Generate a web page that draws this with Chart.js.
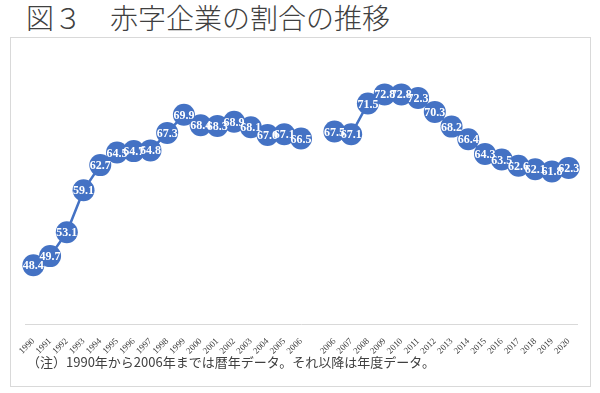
<!DOCTYPE html>
<html lang="ja">
<head>
  <meta charset="UTF-8">
  <title>図３ 赤字企業の割合の推移</title>
  <script src="https://cdn.jsdelivr.net/npm/chart.js"></script>
  <style>
    body { margin: 0; width: 600px; height: 393px; background: #fff; position: relative; overflow: hidden;
           font-family: "Noto Sans CJK JP", sans-serif; }
    #title { position: absolute; left: 26px; top: 3px; font-size: 28px; line-height: 28px; font-weight: 300;
             color: #404040; white-space: nowrap; }
    #frame { position: absolute; left: 10px; top: 37px; width: 581px; height: 350px;
             border: 1px solid #d9d9d9; box-sizing: border-box; }
    #note { position: absolute; left: 27px; top: 354px; font-size: 13px; line-height: 16px;
            color: #404040; white-space: nowrap; }
    #wrap { position: absolute; left: 0; top: 0; width: 600px; height: 393px; }
  </style>
</head>
<body>
  <div id="title">図３　赤字企業の割合の推移</div>
  <div id="frame"></div>
  <div id="wrap"><canvas id="chart" width="600" height="393"></canvas></div>
  <div id="note">（注）1990年から2006年までは暦年データ。それ以降は年度データ。</div>

  <script>
    // calendar years 1990-2006, a blank slot, then fiscal years 2006-2020
    const years = ['1990', '1991', '1992', '1993', '1994', '1995', '1996', '1997', '1998', '1999',
                   '2000', '2001', '2002', '2003', '2004', '2005', '2006', '',
                   '2006', '2007', '2008', '2009', '2010', '2011', '2012', '2013', '2014',
                   '2015', '2016', '2017', '2018', '2019', '2020'];

    const calendarYearShare = [48.4, 49.7, 53.1, 59.1, 62.7, 64.5, 64.7, 64.8, 67.3, 69.9,
                               68.4, 68.3, 68.9, 68.1, 67.0, 67.1, 66.5];
    const fiscalYearShare = [67.5, 67.1, 71.5, 72.8, 72.8, 72.3, 70.3, 68.2, 66.4,
                             64.3, 63.5, 62.6, 62.1, 61.8, 62.3];

    const deficitShare = [...calendarYearShare, null, ...fiscalYearShare];

    const yMin = 40;
    const yMax = 80;

    const blue = '#4472C4';

    // white value labels on top of the markers
    const valueLabels = {
      id: 'valueLabels',
      afterDatasetsDraw(chart) {
        const ctx = chart.ctx;
        const meta = chart.getDatasetMeta(0);
        const data = chart.data.datasets[0].data;
        ctx.save();
        ctx.font = 'bold 12px "Liberation Serif", "Times New Roman", serif';
        ctx.fillStyle = '#ffffff';
        ctx.textAlign = 'center';
        ctx.textBaseline = 'middle';
        meta.data.forEach((pt, i) => {
          if (data[i] === null) return;
          ctx.fillText(data[i].toFixed(1), pt.x, pt.y + 1);
        });
        ctx.restore();
      }
    };

    new Chart(document.getElementById('chart'), {
      type: 'line',
      data: {
        labels: years,
        datasets: [{
          data: deficitShare,
          borderColor: blue,
          borderWidth: 2.5,
          backgroundColor: blue,
          pointBackgroundColor: blue,
          pointBorderColor: blue,
          pointBorderWidth: 0,
          pointRadius: 11,
          pointHoverRadius: 11,
          spanGaps: false,
          tension: 0
        }]
      },
      options: {
        responsive: false,
        animation: false,
        layout: { padding: { left: 25, right: 23, top: 44, bottom: 29 } },
        plugins: { legend: { display: false }, tooltip: { enabled: false } },
        scales: {
          x: {
            offset: true,
            grid: { display: false },
            border: { display: true, color: '#d9d9d9', width: 1 },
            ticks: {
              autoSkip: false,
              maxRotation: 45,
              minRotation: 45,
              padding: 4,
              color: '#404040',
              font: { family: '"Liberation Serif", "Times New Roman", serif', size: 9 }
            },
            afterFit(scale) { scale.height = 40; }
          },
          y: { display: false, min: yMin, max: yMax }
        }
      },
      plugins: [valueLabels]
    });
  </script>
</body>
</html>
